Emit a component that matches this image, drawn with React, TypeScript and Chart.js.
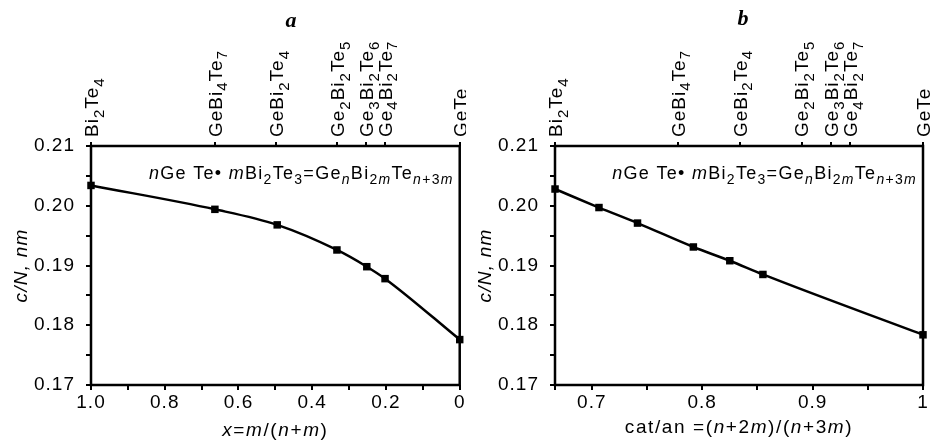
import React, { useEffect, useRef } from 'react';
import { Chart, registerables } from 'chart.js';
Chart.register(...registerables);

const FONT = '"Liberation Sans", Arial, sans-serif';

// ---- data ----
const compoundLabels = ['Bi_{2}Te_{4}', 'GeBi_{4}Te_{7}', 'GeBi_{2}Te_{4}', 'Ge_{2}Bi_{2}Te_{5}', 'Ge_{3}Bi_{2}Te_{6}', 'Ge_{4}Bi_{2}Te_{7}', 'GeTe'];
const topPositionsA = [1.0, 0.664, 0.498, 0.332, 0.253, 0.203, 0];
const topPositionsB = [0.6667, 0.778, 0.834, 0.89, 0.917, 0.934, 1.0];

const xA = [1.0, 0.664, 0.495, 0.333, 0.252, 0.2025, 0];
const yA = [0.2034, 0.1994, 0.1968, 0.1926, 0.1898, 0.1878, 0.1776];
const xB = [0.6667, 0.7065, 0.7414, 0.792, 0.825, 0.855, 1.0];
const yB = [0.2028, 0.1997, 0.1971, 0.1931, 0.1908, 0.1885, 0.1784];

const yTicks = [0.17, 0.175, 0.18, 0.185, 0.19, 0.195, 0.2, 0.205, 0.21];
const yTickLabels = ['0.17', '', '0.18', '', '0.19', '', '0.20', '', '0.21'];
const xTicksA = [1.0, 0.9, 0.8, 0.7, 0.6, 0.5, 0.4, 0.3, 0.2, 0.1, 0];
const xTickLabelsA = ['1.0', '', '0.8', '', '0.6', '', '0.4', '', '0.2', '', '0'];
const xTicksB = [0.6667, 0.7, 0.75, 0.8, 0.85, 0.9, 0.95, 1.0];
const xTickLabelsB = ['', '0.7', '', '0.8', '', '0.9', '', '1'];

const formula = '*n*Ge Te\u2022 *m*Bi_{2}Te_{3}=Ge_{*n*}Bi_{2*m*}Te_{*n*+3*m*}';
const yTitle = '*c/N, nm*';
const xTitleA = '*x*=*m*/(*n*+*m*)';
const xTitleB = 'cat/an =(*n*+2*m*)/(*n*+3*m*)';
const panelTitles = ['a', 'b'];

type Seg = { t: string; sub: boolean; it: boolean };
function parseRich(s: string): Seg[] {
  const segs: Seg[] = [];
  let sub = false, it = false, buf = '';
  const push = () => { if (buf) { segs.push({ t: buf, sub, it }); buf = ''; } };
  for (let i = 0; i < s.length; i++) {
    const c = s[i];
    if (c === '_' && s[i + 1] === '{') { push(); sub = true; i++; continue; }
    if (c === '}' && sub) { push(); sub = false; continue; }
    if (c === '*') { push(); it = !it; continue; }
    buf += c;
  }
  push();
  return segs;
}
function drawRich(ctx: CanvasRenderingContext2D, s: string, x: number, y: number, size: number, align: 'left' | 'center' | 'right', ls = 1, subRatio = 0.76) {
  const segs = parseRich(s);
  const font = (g: Seg) => `${g.it ? 'italic ' : ''}${g.sub ? Math.round(size * subRatio) : size}px ${FONT}`;
  (ctx as any).letterSpacing = `${ls}px`;
  let w = 0;
  for (const g of segs) { ctx.font = font(g); w += ctx.measureText(g.t).width; }
  let cx = align === 'left' ? x : align === 'right' ? x - w : x - w / 2;
  ctx.textAlign = 'left';
  ctx.textBaseline = 'alphabetic';
  for (const g of segs) {
    ctx.font = font(g);
    ctx.fillText(g.t, cx, y + (g.sub ? size * 0.3 : 0));
    cx += ctx.measureText(g.t).width;
  }
  return w;
}

type PanelCfg = {
  width: number; xs: number[]; ys: number[]; xTicks: number[]; xLabels: string[];
  xMin: number; xMax: number; reverse: boolean; topPositions: number[];
  xTitle: string; xTitleY: number; title: string; titleX: number; titleY: number;
  yAxisWidth: number; padRight: number;
};

function Panel({ cfg }: { cfg: PanelCfg }) {
  const ref = useRef<HTMLCanvasElement>(null);
  useEffect(() => {
    const canvas = ref.current!;
    const textPlugin = {
      id: 'texts',
      beforeDraw(chart: any) {
        (chart.ctx as any).letterSpacing = '1px';
      },
      afterDraw(chart: any) {
        const ctx: CanvasRenderingContext2D = chart.ctx;
        const a = chart.chartArea;
        ctx.save();
        ctx.strokeStyle = '#000';
        ctx.lineWidth = 2.5;
        ctx.strokeRect(a.left, a.top, a.right - a.left, a.bottom - a.top);
        ctx.fillStyle = '#000';
        // panel title
        (ctx as any).letterSpacing = '0px';
        ctx.font = `bold italic 22px "Liberation Serif", "Times New Roman", serif`;
        ctx.textAlign = 'center';
        ctx.textBaseline = 'alphabetic';
        ctx.fillText(cfg.title, cfg.titleX, cfg.titleY);
        // top compound labels
        const top = chart.scales.xTop;
        cfg.topPositions.forEach((v, i) => {
          const px = top.getPixelForValue(v);
          ctx.save();
          ctx.translate(px, a.top - 9);
          ctx.rotate(-Math.PI / 2);
          drawRich(ctx, compoundLabels[i], 0, 19 * 0.36, 19, 'left', 1, 0.8);
          ctx.restore();
        });
        // formula
        drawRich(ctx, formula, a.right - 6, a.top + 33, 18, 'right', 1.3, 0.78);
        // y title
        ctx.save();
        ctx.translate(a.left - 71, (a.top + a.bottom) / 2);
        ctx.rotate(-Math.PI / 2);
        drawRich(ctx, yTitle, 0, 19 * 0.36, 19, 'center', 1.2);
        ctx.restore();
        // x title
        drawRich(ctx, cfg.xTitle, (a.left + a.right) / 2, cfg.xTitleY, 19, 'center', 1.6);
        ctx.restore();
      },
    };
    const chart = new Chart(canvas, {
      type: 'line',
      data: {
        datasets: [{
          data: cfg.xs.map((x, i) => ({ x, y: cfg.ys[i] })),
          borderColor: '#000',
          backgroundColor: '#000',
          borderWidth: 2.5,
          pointStyle: 'rect',
          pointRadius: 5.3,
          pointBackgroundColor: '#000',
          pointBorderColor: '#000',
          pointBorderWidth: 0,
          cubicInterpolationMode: 'monotone',
          clip: false as any,
        }],
      },
      options: {
        responsive: false,
        animation: false,
        devicePixelRatio: 1,
        layout: { padding: { left: 0, right: cfg.padRight, top: 0, bottom: 0 } },
        plugins: { legend: { display: false }, tooltip: { enabled: false }, title: { display: false } },
        scales: {
          x: {
            type: 'linear', position: 'bottom', min: cfg.xMin, max: cfg.xMax, reverse: cfg.reverse,
            afterBuildTicks: (s: any) => { s.ticks = cfg.xTicks.map((v) => ({ value: v })); },
            afterFit: (s: any) => { s.height = 55; },
            border: { display: false },
            grid: { display: true, drawOnChartArea: false, drawTicks: true, tickLength: 5, color: '#000', lineWidth: 2 },
            ticks: {
              autoSkip: false, maxRotation: 0, minRotation: 0, padding: 1, color: '#000',
              font: { family: FONT, size: 19 },
              callback: (_v: any, i: number) => cfg.xLabels[i],
            },
          },
          xTop: {
            type: 'linear', position: 'top', min: cfg.xMin, max: cfg.xMax, reverse: cfg.reverse,
            afterBuildTicks: (s: any) => { s.ticks = cfg.topPositions.map((v) => ({ value: v })); },
            afterFit: (s: any) => { s.height = 146; },
            border: { display: false },
            grid: { display: true, drawOnChartArea: false, drawTicks: true, tickLength: 4, color: '#000', lineWidth: 2 },
            ticks: { display: false },
          },
          y: {
            type: 'linear', position: 'left', min: 0.17, max: 0.21,
            afterBuildTicks: (s: any) => { s.ticks = yTicks.map((v) => ({ value: v })); },
            afterFit: (s: any) => { s.width = cfg.yAxisWidth; },
            border: { display: false },
            grid: { display: true, drawOnChartArea: false, drawTicks: true, tickLength: 5, color: '#000', lineWidth: 2 },
            ticks: {
              autoSkip: false, padding: 11, color: '#000',
              font: { family: FONT, size: 19 },
              callback: (_v: any, i: number) => yTickLabels[i],
            },
          },
        },
      } as any,
      plugins: [textPlugin],
    });
    return () => chart.destroy();
  }, [cfg]);
  return <canvas ref={ref} width={cfg.width} height={440} style={{ display: 'block' }} />;
}

const cfgA: PanelCfg = {
  width: 466, xs: xA, ys: yA, xTicks: xTicksA, xLabels: xTickLabelsA,
  xMin: 0, xMax: 1, reverse: true, topPositions: topPositionsA,
  xTitle: xTitleA, xTitleY: 436, title: panelTitles[0], titleX: 291, titleY: 27,
  yAxisWidth: 91, padRight: 6,
};
const cfgB: PanelCfg = {
  width: 465, xs: xB, ys: yB, xTicks: xTicksB, xLabels: xTickLabelsB,
  xMin: 2 / 3, xMax: 1, reverse: false, topPositions: topPositionsB,
  xTitle: xTitleB, xTitleY: 433, title: panelTitles[1], titleX: 277, titleY: 25,
  yAxisWidth: 89, padRight: 8,
};

export default function App() {
  return (
    <div style={{ position: 'fixed', left: 0, top: 0, width: 931, height: 440, display: 'flex', background: '#fff' }}>
      <Panel cfg={cfgA} />
      <Panel cfg={cfgB} />
    </div>
  );
}
